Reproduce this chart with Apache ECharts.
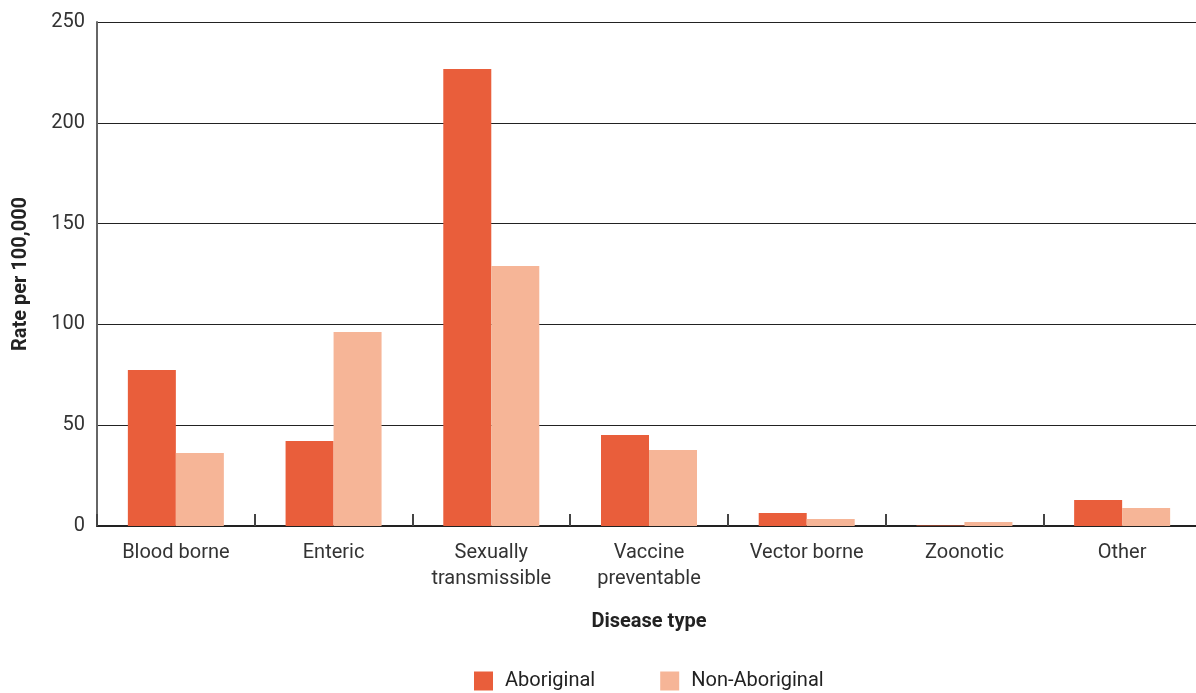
<!DOCTYPE html>
<html><head><meta charset="utf-8">
<script src="https://cdn.jsdelivr.net/npm/echarts@6/dist/echarts.min.js"></script>
<style>html,body{margin:0;padding:0;background:#fff;overflow:hidden}#c{width:1201px;height:693px}</style>
</head><body><div id="c"></div>
<script>
const categories = ['Blood borne','Enteric','Sexually\ntransmissible','Vaccine\npreventable','Vector borne','Zoonotic','Other'];
const aboriginal = [77.4, 42.2, 226.7, 45.1, 6.4, 0.3, 12.9];
const nonAboriginal = [36.2, 96.2, 129.0, 37.7, 3.5, 2.0, 8.9];
const yTicks = [0, 50, 100, 150, 200, 250];
const FONT = '"Roboto", sans-serif';
const chart = echarts.init(document.getElementById('c'));
chart.setOption({
  animation: false,
  textStyle: { fontFamily: FONT },
  grid: { left: 97, right: 0, top: 22, height: 504 },
  legend: {
    top: 666, left: 469, itemWidth: 19, itemHeight: 19, itemGap: 65,
    icon: 'rect',
    textStyle: { fontFamily: FONT, fontSize: 20, color: '#222', padding: [0, 0, 0, 7] },
    data: ['Aboriginal', 'Non-Aboriginal']
  },
  xAxis: {
    type: 'category', data: categories,
    name: 'Disease type', nameLocation: 'middle', nameGap: 86,
    nameTextStyle: { fontFamily: FONT, fontSize: 20, fontWeight: 'bold', color: '#222' },
    axisLine: { lineStyle: { color: '#222', width: 2 } },
    axisTick: { show: true, inside: true, length: 12, lineStyle: { color: '#444', width: 2 } },
    axisLabel: { fontFamily: FONT, fontSize: 20, color: '#333', margin: 14, lineHeight: 26 }
  },
  yAxis: {
    type: 'value', min: 0, max: 250, interval: 50,
    name: 'Rate per 100,000', nameLocation: 'middle', nameGap: 66, nameRotate: 90,
    nameTextStyle: { fontFamily: FONT, fontSize: 20, fontWeight: 'bold', color: '#222' },
    axisLine: { show: true, lineStyle: { color: '#666', width: 2 } },
    axisTick: { show: false },
    axisLabel: { fontFamily: FONT, fontSize: 20, color: '#333', margin: 12,
      formatter: v => yTicks.includes(v) ? String(v) : '' },
    splitLine: { lineStyle: { color: '#222', width: 1 } }
  },
  series: [
    { name: 'Aboriginal', type: 'bar', data: aboriginal, barWidth: 48, barGap: '0%',
      itemStyle: { color: '#E95E3B' } },
    { name: 'Non-Aboriginal', type: 'bar', data: nonAboriginal, barWidth: 48, barGap: '0%',
      itemStyle: { color: '#F6B597' } }
  ]
});
</script></body></html>
